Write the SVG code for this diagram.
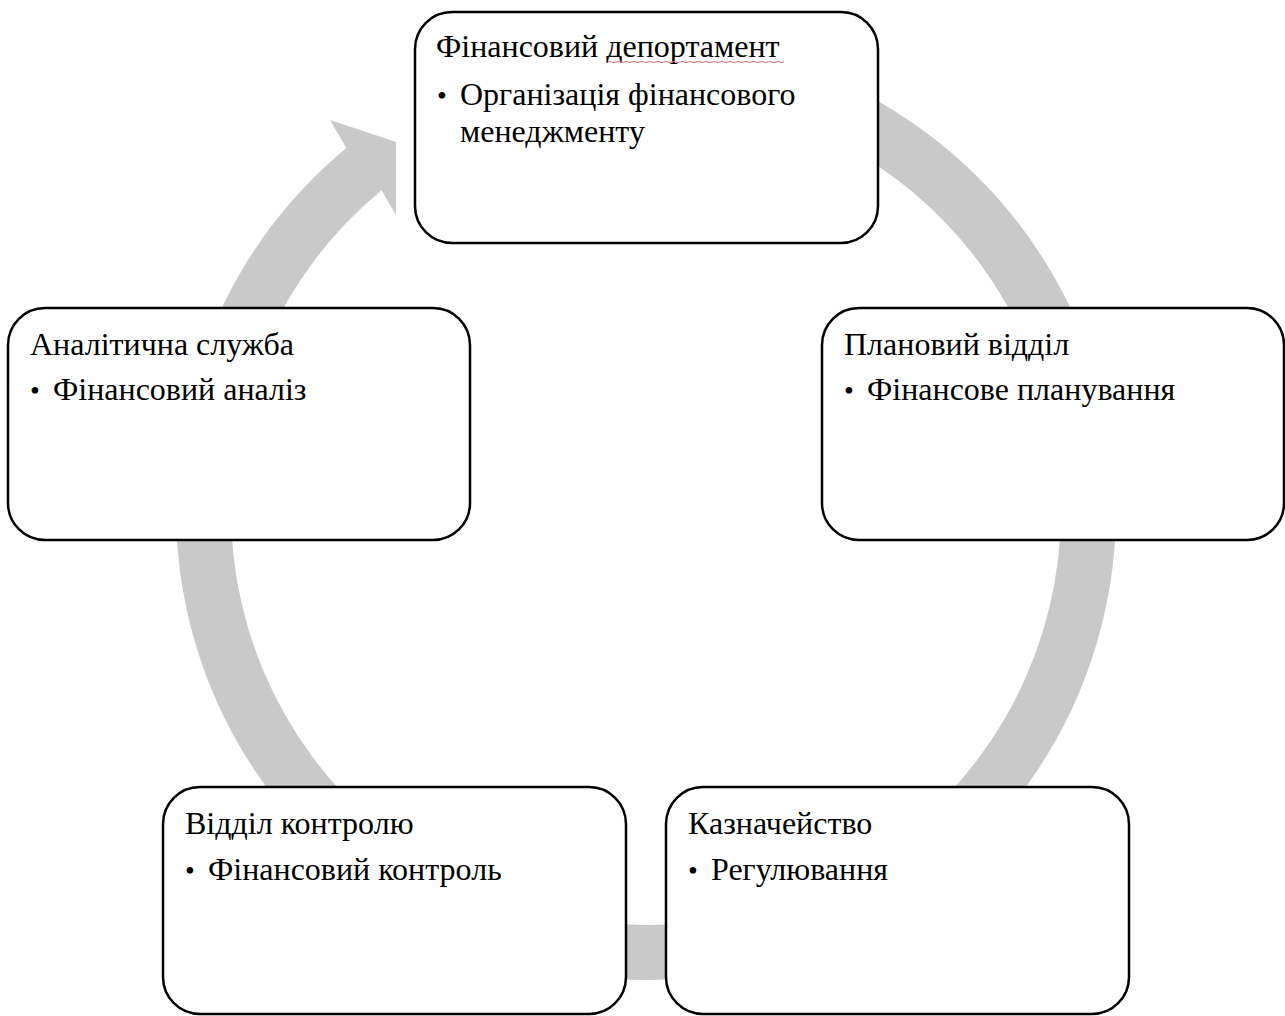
<svg xmlns="http://www.w3.org/2000/svg" width="1285" height="1016" viewBox="0 0 1285 1016">
<style>
.box{fill:#fff;stroke:#000;stroke-width:2.5}
.t{font-family:"Liberation Serif","Times New Roman",serif;font-size:32px;fill:#000}
.b{font-family:"Liberation Serif","Times New Roman",serif;font-size:28px;fill:#000}
.ring{fill:#c9c9c9;stroke:none}
.spell{fill:none;stroke:#e57373;stroke-width:1}
</style>
<rect width="1285" height="1016" fill="#fff"/>
<g id="connectors">
<path class="ring" d="M 646 40 A 470 470 0 1 1 346.4 147.9 L 330 120 L 396 142 L 396 215 L 381.5 190.2 A 415 415 0 1 0 646 95 Z"/>
</g>
<g id="node-finance">
<rect class="box" x="415" y="12" width="463" height="231" rx="37"/>
<text class="t" x="436" y="57">Фінансовий депортамент</text>
<path class="spell" d="M608 62 q2 -1.2 4 0 t4 0 t4 0 t4 0 t4 0 t4 0 t4 0 t4 0 t4 0 t4 0 t4 0 t4 0 t4 0 t4 0 t4 0 t4 0 t4 0 t4 0 t4 0 t4 0 t4 0 t4 0 t4 0 t4 0 t4 0 t4 0 t4 0 t4 0 t4 0 t4 0 t4 0 t4 0 t4 0 t4 0 t4 0 t4 0 t4 0 t4 0 t4 0 t4 0 t4 0 t4 0 t4 0 t4 0"/>
<text class="b" x="437" y="105">•</text>
<text class="t" x="460" y="105">Організація фінансового</text>
<text class="t" x="460" y="142">менеджменту</text>
</g>
<g id="node-planning">
<rect class="box" x="822" y="308" width="462" height="232" rx="37"/>
<text class="t" x="844" y="355">Плановий відділ</text>
<text class="b" x="844" y="400">•</text>
<text class="t" x="867" y="400">Фінансове планування</text>
</g>
<g id="node-treasury">
<rect class="box" x="666" y="787" width="463" height="227" rx="37"/>
<text class="t" x="688" y="834">Казначейство</text>
<text class="b" x="688" y="880">•</text>
<text class="t" x="711" y="880">Регулювання</text>
</g>
<g id="node-control">
<rect class="box" x="163" y="787" width="463" height="227" rx="37"/>
<text class="t" x="185" y="834">Відділ контролю</text>
<text class="b" x="185" y="880">•</text>
<text class="t" x="208" y="880">Фінансовий контроль</text>
</g>
<g id="node-analytics">
<rect class="box" x="8" y="308" width="462" height="232" rx="37"/>
<text class="t" x="30" y="355">Аналітична служба</text>
<text class="b" x="30" y="400">•</text>
<text class="t" x="53" y="400">Фінансовий аналіз</text>
</g>
</svg>
